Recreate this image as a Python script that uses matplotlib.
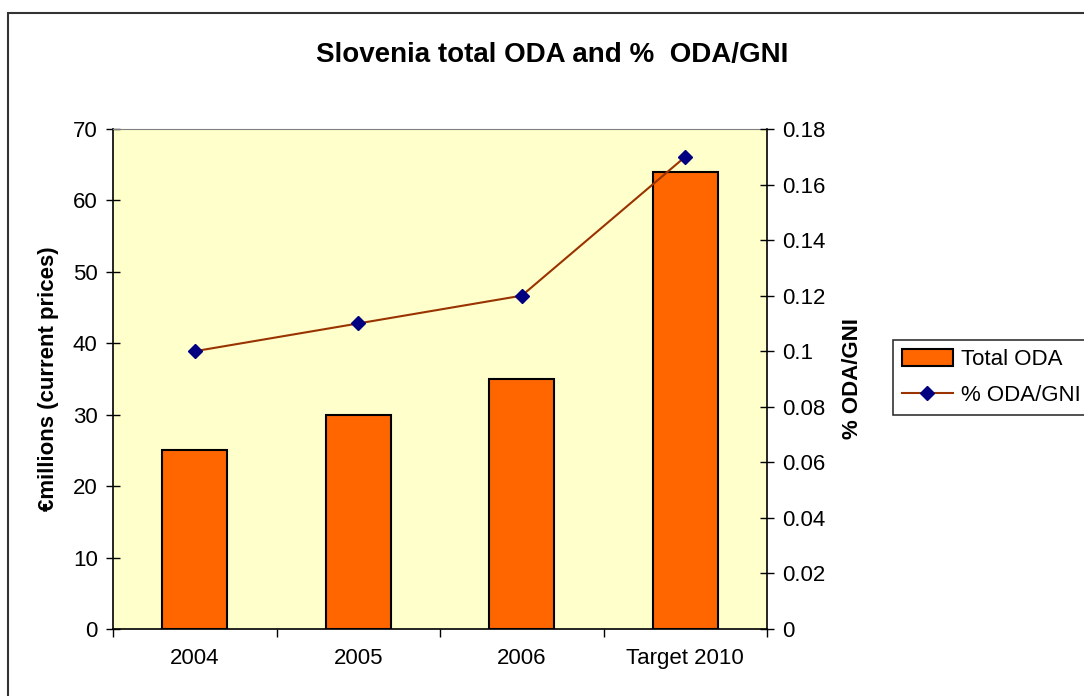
import matplotlib.pyplot as plt
import matplotlib.patches as patches
import numpy as np

plt.rcParams['font.family'] = ['Liberation Sans', 'DejaVu Sans']

# datos
years = ['2004', '2005', '2006', 'Target 2010']
total_oda = [25, 30, 35, 64]
oda_gni = [0.10, 0.11, 0.12, 0.17]

fig = plt.figure(figsize=(10.84, 6.96), dpi=100)
ax = fig.add_axes([113 / 1084, 67 / 696, 654 / 1084, 500 / 696])
ax.set_facecolor('#FFFFCC')

x = np.arange(len(years))
bars = ax.bar(x, total_oda, width=0.4, color='#FF6600', edgecolor='black',
              linewidth=1.5, label='Total ODA', zorder=2)
ax.set_xlim(-0.5, len(years) - 0.5)
ax.set_ylim(0, 70)
ax.set_yticks(range(0, 71, 10))
ax.set_xticks(x)
ax.set_xticklabels(years)
ax.set_xticks(np.arange(-0.5, len(years), 1), minor=True)
ax.tick_params(axis='x', which='major', length=0, labelsize=16, pad=14)
ax.tick_params(axis='x', which='minor', direction='out', length=6, width=1)
ax.tick_params(axis='y', direction='inout', length=10, width=1, labelsize=16, pad=6)
ax.set_ylabel('€millions (current prices)', fontsize=16, fontweight='bold', labelpad=10)
ax.spines['top'].set_color('#808080')
ax.spines['right'].set_visible(False)
for s in ['left', 'bottom']:
    ax.spines[s].set_linewidth(1.2)

# eje secundario
ax2 = ax.twinx()
line, = ax2.plot(x, oda_gni, color='#993300', linewidth=1.5, marker='D',
                 markersize=7, markerfacecolor='#000080', markeredgecolor='#000080',
                 label='% ODA/GNI', zorder=3)
ax2.set_ylim(0, 0.18)
ax2.set_yticks(np.arange(0, 0.181, 0.02))
ax2.set_yticklabels(['0', '0.02', '0.04', '0.06', '0.08', '0.1', '0.12',
                     '0.14', '0.16', '0.18'])
ax2.tick_params(axis='y', direction='inout', length=10, width=1, labelsize=16, pad=6)
ax2.set_ylabel('% ODA/GNI', fontsize=16, fontweight='bold', labelpad=12)
ax2.spines['top'].set_visible(False)
ax2.spines['left'].set_visible(False)
ax2.spines['bottom'].set_visible(False)
ax2.spines['right'].set_linewidth(1.2)

fig.suptitle('Slovenia total ODA and %  ODA/GNI', fontsize=20, fontweight='bold',
             x=552 / 1084, y=1 - 55 / 696, va='center')

leg = fig.legend(handles=[bars, line], loc='upper left',
                 bbox_to_anchor=(893 / 1084, 1 - 340 / 696), borderaxespad=0,
                 fontsize=16, frameon=True, fancybox=False, edgecolor='black',
                 handlelength=2.3, handleheight=0.8, borderpad=0.4,
                 labelspacing=0.65, handletextpad=0.35)
leg.get_frame().set_linewidth(1.2)

# marco exterior
fig.patches.append(patches.Rectangle((8 / 1084, -0.1), 2, 1.1 - 13 / 696,
                                     transform=fig.transFigure, fill=False,
                                     edgecolor='#333333', linewidth=1.5))

plt.savefig('out.png', dpi=100)
